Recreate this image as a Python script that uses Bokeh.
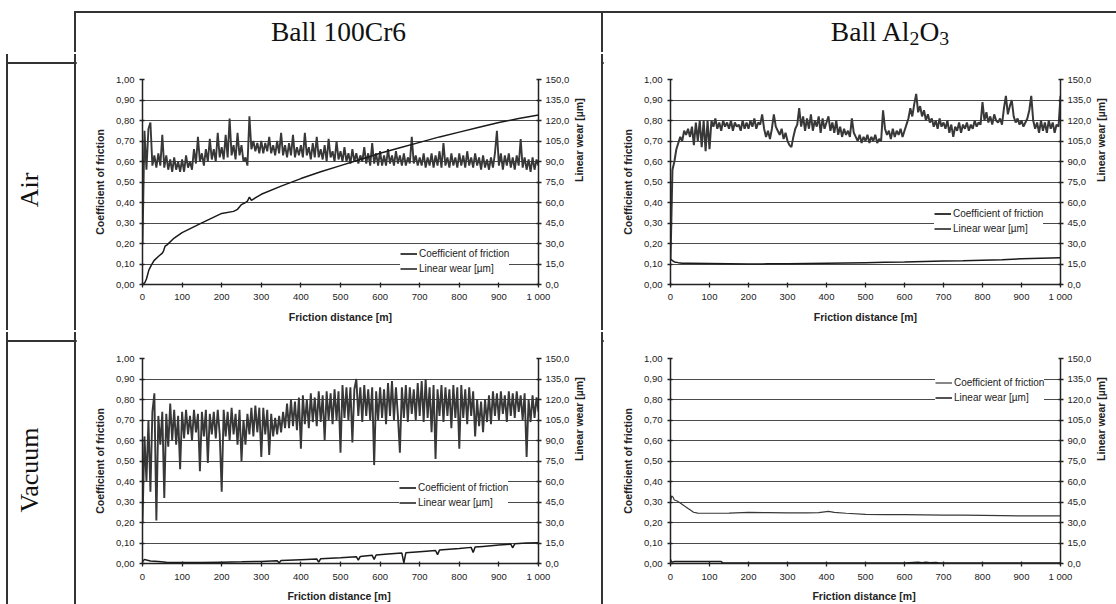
import math
from bokeh.plotting import figure
from bokeh.models import Range1d, LinearAxis, FixedTicker, Legend, LegendItem, Div
from bokeh.layouts import row, column
from bokeh.embed import file_html
from bokeh.resources import INLINE

# ---------------- texts & ticks ----------------
SUB = '<span style="font-size:0.72em;position:relative;top:0.32em">{}</span>'
col_titles = ["Ball 100Cr6", "Ball Al" + SUB.format("2") + "O" + SUB.format("3")]
row_titles = ["Air", "Vacuum"]
legend_labels = ["Coefficient of friction", "Linear wear [µm]"]

dist_ticks = [0, 100, 200, 300, 400, 500, 600, 700, 800, 900, 1000]
dist_labels = ["0", "100", "200", "300", "400", "500", "600", "700", "800", "900", "1 000"]
cof_ticks = [0.0, 0.1, 0.2, 0.3, 0.4, 0.5, 0.6, 0.7, 0.8, 0.9, 1.0]
cof_labels = ["0,00", "0,10", "0,20", "0,30", "0,40", "0,50", "0,60", "0,70", "0,80", "0,90", "1,00"]
wear_ticks = [0, 15, 30, 45, 60, 75, 90, 105, 120, 135, 150]
wear_labels = ["0,0", "15,0", "30,0", "45,0", "60,0", "75,0", "90,0", "105,0", "120,0", "135,0", "150,0"]

# sampling distance of the friction records [m]
dist_5m = list(range(0, 1001, 5))

# ---------------- Air, ball 100Cr6 ----------------
air_cr6_cof = [
    0.20, 0.75, 0.56, 0.76, 0.79, 0.58, 0.63, 0.57, 0.64, 0.58, 0.73, 0.57, 0.63, 0.56, 0.61, 0.55, 0.62, 0.56, 0.60, 0.55,
    0.61, 0.55, 0.63, 0.57, 0.60, 0.56, 0.66, 0.59, 0.72, 0.60, 0.64, 0.58, 0.66, 0.60, 0.71, 0.61, 0.66, 0.60, 0.74, 0.62,
    0.67, 0.61, 0.73, 0.62, 0.81, 0.63, 0.68, 0.61, 0.74, 0.63, 0.68, 0.60, 0.62, 0.58, 0.82, 0.66, 0.70, 0.65, 0.69, 0.64,
    0.70, 0.64, 0.69, 0.65, 0.72, 0.64, 0.68, 0.63, 0.70, 0.64, 0.74, 0.63, 0.68, 0.62, 0.69, 0.63, 0.73, 0.62, 0.67, 0.63,
    0.68, 0.62, 0.74, 0.63, 0.67, 0.61, 0.69, 0.62, 0.72, 0.62, 0.66, 0.61, 0.68, 0.60, 0.71, 0.62, 0.65, 0.60, 0.70, 0.61,
    0.65, 0.60, 0.67, 0.60, 0.64, 0.59, 0.66, 0.60, 0.64, 0.59, 0.63, 0.60, 0.67, 0.59, 0.64, 0.58, 0.69, 0.59, 0.64, 0.58,
    0.65, 0.58, 0.63, 0.58, 0.66, 0.59, 0.63, 0.58, 0.65, 0.59, 0.63, 0.58, 0.64, 0.58, 0.62, 0.59, 0.72, 0.59, 0.63, 0.58,
    0.62, 0.58, 0.64, 0.57, 0.62, 0.58, 0.64, 0.57, 0.63, 0.58, 0.65, 0.57, 0.69, 0.58, 0.62, 0.57, 0.64, 0.58, 0.62, 0.57,
    0.64, 0.58, 0.63, 0.57, 0.65, 0.58, 0.62, 0.57, 0.64, 0.58, 0.62, 0.56, 0.63, 0.57, 0.61, 0.56, 0.62, 0.57, 0.64, 0.75,
    0.58, 0.64, 0.56, 0.63, 0.58, 0.64, 0.57, 0.62, 0.56, 0.63, 0.58, 0.71, 0.57, 0.62, 0.56, 0.61, 0.55, 0.62, 0.56, 0.61,
    0.58,
]
air_cr6_wear_dist = [0, 3, 6, 10, 16, 22, 29, 40, 50, 53, 57, 62, 80, 100, 146, 200, 230, 240, 250, 260,
                     265, 270, 275, 280, 300, 350, 400, 450, 500, 550, 600, 650, 700, 750, 800, 850, 900, 950, 1000]
air_cr6_wear = [0.0, 0.5, 1.5, 4.0, 10.5, 14.0, 17.5, 20.5, 23.0, 24.5, 28.0, 29.0, 34.0, 38.0, 44.5, 52.0, 53.5, 55.0, 58.5, 60.0,
                61.0, 64.0, 61.5, 62.5, 66.0, 72.0, 77.5, 82.5, 87.0, 91.5, 96.0, 100.0, 104.0, 108.0, 111.5, 115.0, 118.5, 121.5, 124.0]

# ---------------- Air, ball Al2O3 ----------------
air_al_cof = [
    0.12, 0.56, 0.60, 0.66, 0.69, 0.72, 0.70, 0.75, 0.73, 0.76, 0.72, 0.77, 0.68, 0.79, 0.70, 0.80, 0.67, 0.80, 0.65, 0.80,
    0.66, 0.80, 0.77, 0.81, 0.76, 0.79, 0.75, 0.80, 0.77, 0.79, 0.76, 0.80, 0.75, 0.79, 0.77, 0.78, 0.75, 0.80, 0.76, 0.79,
    0.76, 0.80, 0.77, 0.81, 0.76, 0.79, 0.78, 0.83, 0.76, 0.72, 0.75, 0.71, 0.76, 0.83, 0.77, 0.75, 0.73, 0.76, 0.71, 0.74,
    0.70, 0.68, 0.67, 0.72, 0.76, 0.78, 0.86, 0.77, 0.82, 0.75, 0.81, 0.76, 0.83, 0.75, 0.80, 0.77, 0.82, 0.74, 0.81, 0.76,
    0.79, 0.82, 0.75, 0.79, 0.74, 0.80, 0.73, 0.77, 0.72, 0.76, 0.73, 0.75, 0.72, 0.81, 0.74, 0.72, 0.70, 0.73, 0.69, 0.72,
    0.70, 0.73, 0.69, 0.72, 0.70, 0.73, 0.69, 0.71, 0.70, 0.85, 0.76, 0.73, 0.75, 0.71, 0.76, 0.72, 0.75, 0.73, 0.76, 0.72,
    0.75, 0.78, 0.81, 0.86, 0.82, 0.88, 0.93, 0.84, 0.87, 0.82, 0.85, 0.80, 0.83, 0.79, 0.81, 0.77, 0.80, 0.76, 0.81, 0.77,
    0.79, 0.76, 0.80, 0.74, 0.78, 0.72, 0.77, 0.75, 0.79, 0.74, 0.78, 0.76, 0.79, 0.75, 0.78, 0.76, 0.80, 0.77, 0.79, 0.78,
    0.89, 0.80, 0.84, 0.79, 0.82, 0.78, 0.83, 0.80, 0.79, 0.81, 0.78, 0.86, 0.92, 0.83, 0.87, 0.90, 0.82, 0.79, 0.81, 0.78,
    0.80, 0.77, 0.79, 0.81, 0.85, 0.92, 0.80, 0.76, 0.79, 0.74, 0.80, 0.75, 0.79, 0.74, 0.80, 0.76, 0.79, 0.74, 0.78, 0.77,
    0.92,
]
air_al_wear_dist = [0, 5, 10, 20, 30, 50, 100, 150, 200, 250, 300, 350, 400, 450, 500, 550, 600, 650, 700, 750,
                    800, 850, 900, 950, 1000]
air_al_wear = [18.5, 17.5, 16.5, 16.0, 15.6, 15.6, 15.4, 15.2, 15.0, 15.1, 15.2, 15.4, 15.6, 15.8, 16.0, 16.2, 16.4, 16.8, 17.2, 17.4,
               17.8, 18.2, 18.8, 19.2, 19.5]

# ---------------- Vacuum, ball 100Cr6 ----------------
vac_cr6_cof = [
    0.20, 0.62, 0.40, 0.70, 0.35, 0.74, 0.83, 0.21, 0.72, 0.58, 0.74, 0.32, 0.73, 0.57, 0.78, 0.60, 0.75, 0.58, 0.72, 0.46,
    0.74, 0.61, 0.75, 0.63, 0.72, 0.60, 0.75, 0.64, 0.73, 0.45, 0.74, 0.62, 0.75, 0.49, 0.73, 0.63, 0.74, 0.61, 0.75, 0.63,
    0.35, 0.75, 0.62, 0.74, 0.60, 0.76, 0.63, 0.73, 0.58, 0.75, 0.50, 0.70, 0.58, 0.73, 0.63, 0.76, 0.62, 0.77, 0.64, 0.76,
    0.52, 0.76, 0.63, 0.75, 0.53, 0.73, 0.62, 0.71, 0.63, 0.72, 0.64, 0.74, 0.66, 0.78, 0.66, 0.80, 0.67, 0.79, 0.65, 0.81,
    0.56, 0.82, 0.68, 0.80, 0.66, 0.83, 0.69, 0.81, 0.67, 0.84, 0.69, 0.82, 0.60, 0.84, 0.70, 0.83, 0.68, 0.85, 0.70, 0.84,
    0.54, 0.87, 0.71, 0.86, 0.70, 0.86, 0.59, 0.85, 0.90, 0.72, 0.86, 0.69, 0.87, 0.72, 0.85, 0.70, 0.86, 0.48, 0.84, 0.70,
    0.86, 0.71, 0.85, 0.68, 0.88, 0.72, 0.89, 0.70, 0.86, 0.72, 0.54, 0.86, 0.71, 0.87, 0.69, 0.86, 0.73, 0.85, 0.70, 0.88,
    0.72, 0.89, 0.69, 0.90, 0.71, 0.86, 0.64, 0.87, 0.51, 0.85, 0.72, 0.87, 0.69, 0.86, 0.72, 0.85, 0.66, 0.87, 0.71, 0.86,
    0.56, 0.87, 0.71, 0.85, 0.68, 0.86, 0.72, 0.84, 0.62, 0.80, 0.67, 0.79, 0.64, 0.80, 0.69, 0.82, 0.68, 0.84, 0.72, 0.83,
    0.70, 0.84, 0.73, 0.82, 0.69, 0.84, 0.72, 0.83, 0.71, 0.84, 0.74, 0.82, 0.70, 0.83, 0.52, 0.80, 0.69, 0.82, 0.71, 0.81,
    0.74,
]
vac_cr6_wear_dist = [0, 5, 10, 20, 40, 60, 80, 100, 150, 200, 250, 300, 340, 345, 350, 400, 440, 445, 450, 500,
                     540, 545, 550, 580, 585, 590, 620, 655, 660, 665, 700, 740, 745, 750, 800, 830, 835, 840, 860, 900,
                     930, 935, 940, 970, 1000]
vac_cr6_wear = [1.5, 3.0, 2.5, 1.8, 1.5, 1.0, 0.8, 0.7, 0.8, 1.0, 1.2, 1.5, 2.0, 0.5, 2.2, 2.8, 3.3, 1.0, 3.5, 4.2,
                5.0, 2.5, 5.2, 6.0, 3.0, 6.2, 7.0, 7.6, 0.5, 7.8, 8.6, 9.5, 6.5, 9.8, 11.0, 11.8, 8.0, 12.0, 12.5, 13.5,
                14.2, 11.5, 14.4, 15.0, 15.2]

# ---------------- Vacuum, ball Al2O3 ----------------
vac_al_cof_dist = [0, 3, 6, 10, 17, 25, 34, 40, 44, 50, 59, 70, 100, 150, 200, 250, 300, 350, 380, 405,
                   420, 450, 500, 550, 600, 650, 700, 750, 800, 850, 900, 950, 1000]
vac_al_cof = [0.30, 0.33, 0.325, 0.31, 0.305, 0.295, 0.283, 0.275, 0.27, 0.262, 0.25, 0.246, 0.245, 0.246, 0.249, 0.248, 0.247, 0.247, 0.248, 0.254,
              0.249, 0.245, 0.24, 0.238, 0.238, 0.237, 0.236, 0.236, 0.235, 0.234, 0.232, 0.232, 0.232]
vac_al_wear_dist = [0, 2, 5, 10, 60, 130, 135, 300, 600, 635, 645, 655, 665, 680, 690, 700, 1000]
vac_al_wear = [3.0, 1.5, 1.0, 1.4, 1.5, 1.4, 0.3, 0.3, 0.3, 0.9, 0.6, 0.9, 0.5, 0.8, 0.4, 0.3, 0.3]

# ---------------- styling ----------------
FONT = "Liberation Sans"
SERIF = "Liberation Serif"
LINE = "#333333"
INK = "#222222"


def style_axis(ax, standoff, label_standoff):
    ax.axis_line_color = INK
    ax.axis_line_width = 1.5
    ax.major_tick_line_color = INK
    ax.major_tick_line_width = 1.3
    ax.major_tick_out = 3
    ax.major_tick_in = 2
    ax.minor_tick_line_color = None
    ax.major_label_text_font = FONT
    ax.major_label_text_font_size = "9.5px"
    ax.major_label_text_color = INK
    ax.major_label_standoff = standoff
    ax.axis_label_text_font = FONT
    ax.axis_label_text_font_size = "10.5px"
    ax.axis_label_text_font_style = "bold"
    ax.axis_label_text_color = INK
    ax.axis_label_standoff = label_standoff


def make_plot(w, h, bl, br, bt, bb, cof_x, cof_y, wear_x, wear_y, leg_xy, xlabel, ylabel2,
              cof_width, x_standoffs):
    p = figure(width=w, height=h, output_backend="svg", toolbar_location=None,
               x_range=Range1d(0, 1000), y_range=Range1d(0, 1),
               min_border_left=bl, min_border_right=br, min_border_top=bt, min_border_bottom=bb)
    p.extra_y_ranges = {"wear": Range1d(0, 150)}
    p.outline_line_color = None
    p.background_fill_color = "white"
    p.border_fill_color = "white"
    p.xgrid.visible = False
    p.ygrid.ticker = FixedTicker(ticks=cof_ticks)
    p.ygrid.grid_line_color = "#4a4a4a"
    p.ygrid.grid_line_width = 1

    r_cof = p.line(cof_x, cof_y, line_color="#383838", line_width=cof_width)
    r_wear = p.line(wear_x, wear_y, y_range_name="wear", line_color="#1a1a1a", line_width=1.5)

    xa = p.xaxis[0]
    xa.ticker = FixedTicker(ticks=dist_ticks)
    xa.major_label_overrides = dict(zip(dist_ticks, dist_labels))
    xa.axis_label = xlabel
    style_axis(xa, x_standoffs[0], x_standoffs[1])

    ya = p.yaxis[0]
    ya.ticker = FixedTicker(ticks=cof_ticks)
    ya.major_label_overrides = dict(zip(cof_ticks, cof_labels))
    ya.axis_label = "Coefficient of friction"
    style_axis(ya, 5, 7)

    ra = LinearAxis(y_range_name="wear", ticker=FixedTicker(ticks=wear_ticks),
                    major_label_overrides=dict(zip(wear_ticks, wear_labels)),
                    axis_label=ylabel2)
    style_axis(ra, 4, 7)
    ra.axis_label_orientation = math.pi / 2
    p.add_layout(ra, "right")

    leg = Legend(items=[LegendItem(label=legend_labels[0], renderers=[r_cof]),
                        LegendItem(label=legend_labels[1], renderers=[r_wear])],
                 location=leg_xy, orientation="vertical",
                 label_text_font=FONT, label_text_font_size="10px", label_text_color=INK,
                 glyph_width=17, glyph_height=15, label_height=15, label_standoff=2,
                 padding=4, spacing=0, margin=0,
                 border_line_color=None, background_fill_color="white", background_fill_alpha=1)
    p.add_layout(leg)
    return p


p1 = make_plot(525, 276, 66, 63, 25, 46, dist_5m, air_cr6_cof, air_cr6_wear_dist, air_cr6_wear,
               (258, 8), "Friction distance [m]", "Linear wear [µm]", 1.9, (3, 6))
p2 = make_plot(513, 276, 67, 51, 25, 46, dist_5m, air_al_cof, air_al_wear_dist, air_al_wear,
               (264, 48), "Friction distance [m]", "Linear wear [µm]", 2.0, (3, 6))
p3 = make_plot(525, 272, 66, 63, 26, 41, dist_5m, vac_cr6_cof, vac_cr6_wear_dist, vac_cr6_wear,
               (257, 53), "Friction distance  [m]", "Linear wear  [µm]", 1.9, (4, 5))
p4 = make_plot(513, 272, 67, 51, 26, 41, vac_al_cof_dist, vac_al_cof, vac_al_wear_dist, vac_al_wear,
               (265, 158), "Friction distance  [m]", "Linear wear  [µm]", 1.2, (4, 5))


# ---------------- table frame (divs) ----------------
def vline(h, top=0):
    return Div(text=f'<div style="padding-top:{top}px"><div style="width:2px;height:{h - top}px;background:{LINE}"></div></div>',
               width=2, height=h, margin=0)


def hline(w, left):
    return Div(text=f'<div style="margin-left:{left}px;width:{w - left}px;height:2px;background:{LINE}"></div>',
               width=w, height=2, margin=0)


def header(w, html, pad_left):
    return Div(text=(f'<div style="width:{w}px;height:52px;padding-top:11px;box-sizing:border-box">'
                     f'<div style="width:{w}px;height:2px;background:{LINE}"></div>'
                     f'<div style="width:{w}px;height:37px;box-sizing:border-box;padding-left:{pad_left}px;'
                     f'display:flex;align-items:center;justify-content:center;'
                     f"font-family:'{SERIF}';font-size:27.5px;color:#111;white-space:nowrap\">{html}</div></div>"),
               width=w, height=52, margin=0)


def label_cell(w, h, text, cy):
    return Div(text=(f'<div style="position:relative;width:{w}px;height:{h}px">'
                     f'<div style="position:absolute;left:6px;top:0;width:2px;height:{h}px;background:{LINE}"></div>'
                     f'<div style="position:absolute;left:30px;top:{cy}px;transform:translate(-50%,-50%) rotate(-90deg);'
                     f"font-family:'{SERIF}';font-size:26px;color:#111;white-space:nowrap;line-height:1\">{text}</div></div>"),
               width=w, height=h, margin=0)


layout = column(
    row(Div(text="", width=74, height=52, margin=0), vline(52, 11), header(525, col_titles[0], 0),
        vline(52, 11), header(513, col_titles[1], 61), spacing=0),
    hline(1116, 6),
    row(label_cell(74, 276, row_titles[0], 136), vline(276), p1, vline(276), p2, spacing=0),
    hline(1116, 6),
    row(label_cell(74, 272, row_titles[1], 138), vline(272), p3, vline(272), p4, spacing=0),
    spacing=0,
)

open("out.html", "w").write(file_html(layout, INLINE))
